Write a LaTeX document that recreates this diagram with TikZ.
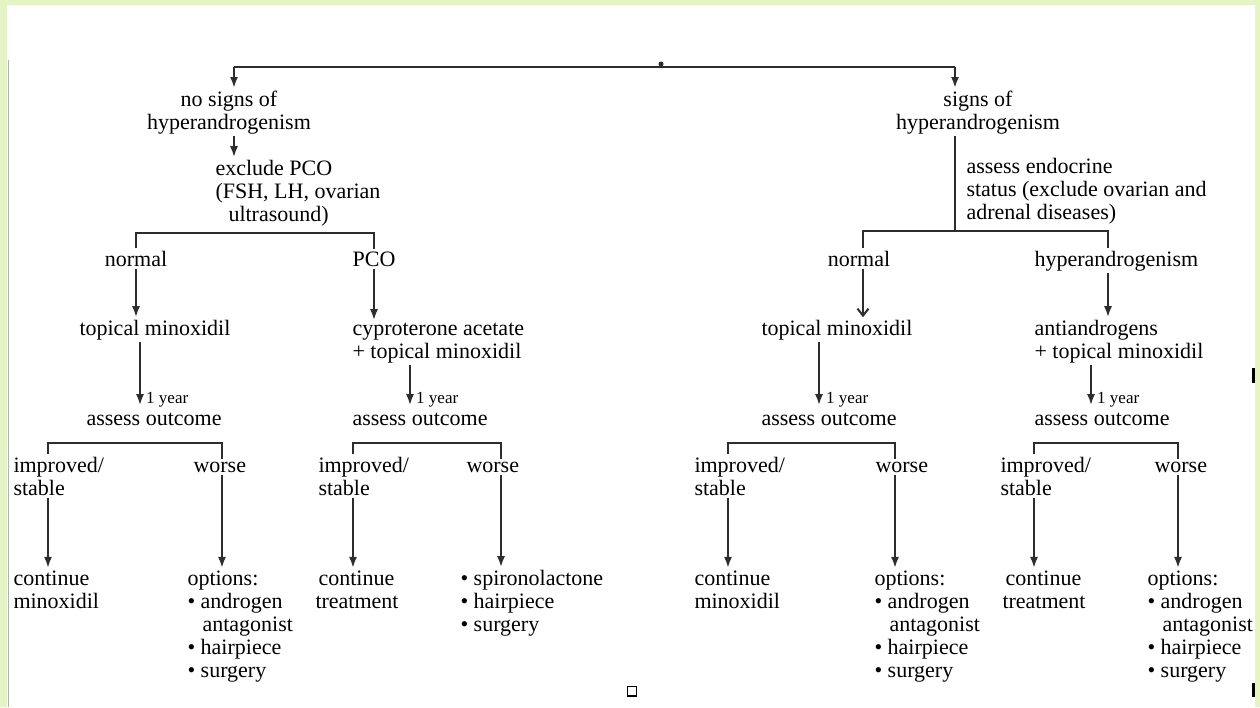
\documentclass[tikz,border=0pt]{standalone}
\usepackage{fontspec}
\setmainfont{Liberation Serif}
\usetikzlibrary{arrows.meta}
\definecolor{framecol}{RGB}{229,244,196}
\definecolor{lncol}{RGB}{45,45,45}
\begin{document}
\begin{tikzpicture}[x=1pt,y=-1pt,
  txt/.style={font=\fontsize{22}{23}\selectfont, inner sep=0pt, outer sep=2.5pt, text=black},
  yr/.style={font=\fontsize{17}{18}\selectfont, inner sep=0pt, text=black},
  ln/.style={draw=lncol, line width=2pt},
  arr/.style={ln, -{Latex[length=11pt,width=8pt]}},
  barb/.style={ln, -{Straight Barb[length=7pt,width=11pt]}},
]
\useasboundingbox (0,0) rectangle (1260,707);
\fill[framecol] (0,0) rectangle (1260,707);
\fill[white] (7,5) rectangle (1255,707);
\draw[gray!60, line width=1.5pt] (8.5,60) -- (8.5,707);

% ---------- nodes (multi-line nodes are placed by the baseline of their last line) ----------
\node[txt, align=center, anchor=base] (nosigns) at (229,129) {no signs of\\hyperandrogenism};
\node[txt, align=center, anchor=base] (signs) at (978,129) {signs of\\hyperandrogenism};
\node[txt, align=left, anchor=base west] (excl) at (213,221) {exclude PCO\\(FSH, LH, ovarian\\\hspace*{13pt}ultrasound)};
\node[txt, align=left, anchor=base west] (endo) at (964,219) {assess endocrine\\status (exclude ovarian and\\adrenal diseases)};

\node[txt, anchor=base] (nL) at (136,266) {normal};
\node[txt, anchor=base] (pco) at (374,266) {PCO};
\node[txt, anchor=base] (nR) at (859,266) {normal};
\node[txt, anchor=base west] (hR) at (1032,266) {hyperandrogenism};

\node[txt, anchor=base west] (tmL) at (77,335) {topical minoxidil};
\node[txt, align=left, anchor=base west] (cpa) at (350,358) {cyproterone acetate\\+ topical minoxidil};
\node[txt, anchor=base west] (tmR) at (759,335) {topical minoxidil};
\node[txt, align=left, anchor=base west] (anti) at (1032,358) {antiandrogens\\+ topical minoxidil};

\node[yr, anchor=base west] (y1) at (146,403) {1 year};
\node[yr, anchor=base west] (y2) at (416,403) {1 year};
\node[yr, anchor=base west] (y3) at (826,403) {1 year};
\node[yr, anchor=base west] (y4) at (1097,403) {1 year};

\node[txt, anchor=base west] (aoL) at (84,425) {assess outcome};
\node[txt, anchor=base west] (aoP) at (350,425) {assess outcome};
\node[txt, anchor=base west] (aoR) at (759,425) {assess outcome};
\node[txt, anchor=base west] (aoA) at (1032,425) {assess outcome};

\node[txt, align=left, anchor=base west] (imp1) at (11,495) {improved/\\stable};
\node[txt, anchor=base west] (wor1) at (191,472) {worse};
\node[txt, align=left, anchor=base west] (imp2) at (316,495) {improved/\\stable};
\node[txt, anchor=base west] (wor2) at (464,472) {worse};
\node[txt, align=left, anchor=base west] (imp3) at (692,495) {improved/\\stable};
\node[txt, anchor=base west] (wor3) at (873,472) {worse};
\node[txt, align=left, anchor=base west] (imp4) at (998,495) {improved/\\stable};
\node[txt, anchor=base west] (wor4) at (1152,472) {worse};

\node[txt, align=left, anchor=base west] (cont1) at (11,608) {continue\\minoxidil};
\node[txt, align=left, anchor=base west] (opt1) at (185,677) {options:\\• androgen\\\hspace*{15pt}antagonist\\• hairpiece\\• surgery};
\node[txt, align=left, anchor=base west] (cont2) at (316,608) {continue\\\hspace*{-3pt}treatment};
\node[txt, align=left, anchor=base west] (spiro) at (458,631) {• spironolactone\\• hairpiece\\• surgery};
\node[txt, align=left, anchor=base west] (cont3) at (692,608) {continue\\minoxidil};
\node[txt, align=left, anchor=base west] (opt3) at (872,677) {options:\\• androgen\\\hspace*{15pt}antagonist\\• hairpiece\\• surgery};
\node[txt, align=left, anchor=base west] (cont4) at (1003,608) {continue\\\hspace*{-3pt}treatment};
\node[txt, align=left, anchor=base west] (opt4) at (1145,677) {options:\\• androgen\\\hspace*{15pt}antagonist\\• hairpiece\\• surgery};

% ---------- column coordinates ----------
\coordinate (tl) at (234,67);
\coordinate (tr) at (955,67);
\coordinate (root) at (661,64);
\coordinate (b1) at (0,233);
\coordinate (b2) at (0,231);
\coordinate (b3) at (0,443);
\coordinate (c3) at (863,0);
\coordinate (hx) at (1108,0);
\coordinate (d1) at (140,0);
\coordinate (d2) at (410,0);
\coordinate (d3) at (819,0);
\coordinate (d4) at (1091,0);
\coordinate (e1) at (48,0);   \coordinate (e2) at (222,0);
\coordinate (e3) at (353,0);  \coordinate (e4) at (501,0);
\coordinate (e5) at (728,0);  \coordinate (e6) at (895,0);
\coordinate (e7) at (1034,0); \coordinate (e8) at (1178,0);

% ---------- connectors ----------
\draw[ln] (tl) -- (tr);
\fill[lncol] (root) circle (2.5);
\draw[arr] (tl) -- (tl |- nosigns.north);
\draw[arr] (tr) -- (tr |- signs.north);

\draw[arr] (nosigns.south -| tl) -- (tl |- excl.north);
\draw[ln] (nL.north) -- (nL.north |- b1) -| (pco.north);

\draw[ln] (signs.south -| tr) -- (tr |- b2);
\draw[ln] (nR.north -| c3) -- (c3 |- b2) -| (hR.north -| hx);

\draw[arr] (nL.south) -- (nL.south |- tmL.north);
\draw[arr] (pco.south) -- (pco.south |- cpa.north);
\draw[barb] (nR.south -| c3) -- (c3 |- tmR.north);
\draw[arr] (hR.south -| hx) -- (hx |- anti.north);

\draw[arr, shorten >=5pt] (tmL.south -| d1) -- (d1 |- aoL.north);
\draw[arr, shorten >=5pt] (cpa.south -| d2) -- (d2 |- aoP.north);
\draw[arr, shorten >=5pt] (tmR.south -| d3) -- (d3 |- aoR.north);
\draw[arr, shorten >=5pt] (anti.south -| d4) -- (d4 |- aoA.north);

\draw[ln] (imp1.north -| e1) -- (e1 |- b3) -| (wor1.north -| e2);
\draw[ln] (imp2.north -| e3) -- (e3 |- b3) -| (wor2.north -| e4);
\draw[ln] (imp3.north -| e5) -- (e5 |- b3) -| (wor3.north -| e6);
\draw[ln] (imp4.north -| e7) -- (e7 |- b3) -| (wor4.north -| e8);

\draw[arr] (imp1.south -| e1) -- (e1 |- cont1.north);
\draw[arr] (wor1.south -| e2) -- (e2 |- opt1.north);
\draw[arr] (imp2.south -| e3) -- (e3 |- cont2.north);
\draw[arr] (wor2.south -| e4) -- (e4 |- spiro.north);
\draw[arr] (imp3.south -| e5) -- (e5 |- cont3.north);
\draw[arr] (wor3.south -| e6) -- (e6 |- opt3.north);
\draw[arr] (imp4.south -| e7) -- (e7 |- cont4.north);
\draw[arr] (wor4.south -| e8) -- (e8 |- opt4.north);

% ---------- small marks ----------
\fill[black] (1252,368) rectangle (1254.5,383);
\fill[black] (1252,683) rectangle (1254.5,697);
\draw[black, line width=1.4pt] (627.5,686.5) rectangle (636.5,696);
\end{tikzpicture}
\end{document}
